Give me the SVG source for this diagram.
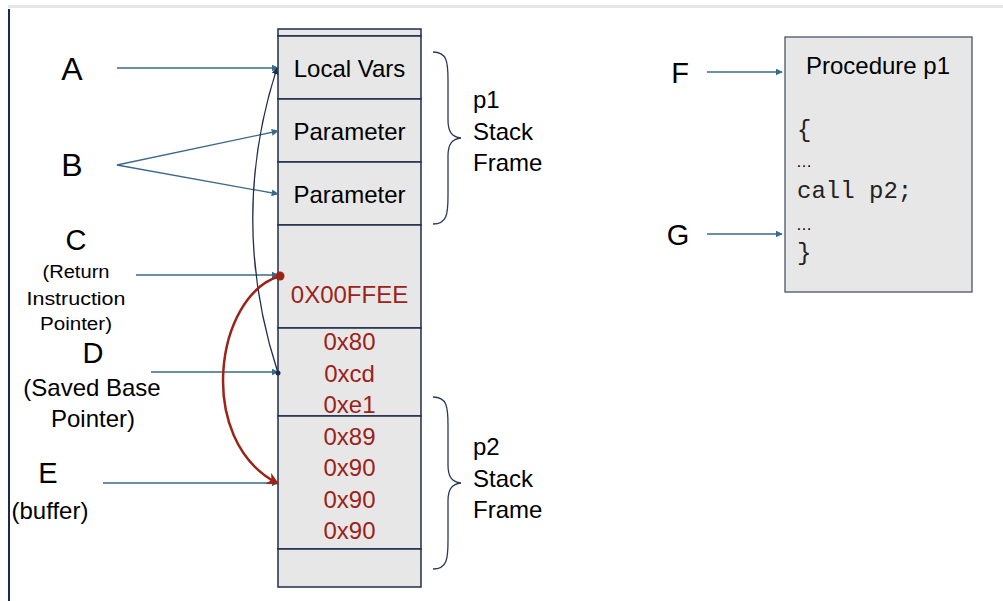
<svg xmlns="http://www.w3.org/2000/svg" width="1003" height="601" viewBox="0 0 1003 601">
<style>
.lbl{font-family:"Liberation Sans",Arial,sans-serif;fill:#000}
.big{font-size:32px}
.let{font-size:29px}
.mid{font-size:24px}
.sm{font-size:18px}
.cell{fill:#e7e7e7;stroke:#1f2d4a;stroke-width:1.5}
.hex{font-family:"Liberation Sans",Arial,sans-serif;font-size:24px;fill:#9b2318}
.code{font-family:"Liberation Mono","Courier New",monospace;font-size:24px;fill:#222}
.ptr{stroke:#3a6a8a;stroke-width:1.3;fill:none;marker-end:url(#ah)}
.brace{stroke:#2a3a55;stroke-width:1.3;fill:none}
</style>
<defs>
<marker id="ah" viewBox="0 0 10 10" refX="9" refY="5" markerWidth="7" markerHeight="7" markerUnits="userSpaceOnUse" orient="auto"><path d="M0,0 L10,5 L0,10 Z" fill="#3a6a8a"/></marker>
<marker id="ahd" viewBox="0 0 10 10" refX="9" refY="5" markerWidth="7" markerHeight="7" markerUnits="userSpaceOnUse" orient="auto"><path d="M0,0 L10,5 L0,10 Z" fill="#1f2d4a"/></marker>
<marker id="ahr" viewBox="0 0 10 10" refX="8" refY="5" markerWidth="5" markerHeight="5" orient="auto"><path d="M0,0 L10,5 L0,10 L3,5 Z" fill="#9b2318"/></marker>
</defs>
<rect x="0" y="0" width="1003" height="601" fill="#fff"/>
<rect x="8" y="5" width="995" height="3" fill="#e6e6e6"/>
<line x1="9" y1="9" x2="9" y2="601" stroke="#1a2a4a" stroke-width="2"/>

<g id="stack">
<rect class="cell" x="278" y="29" width="143" height="7"/>
<g id="local-vars"><rect class="cell" x="278" y="36" width="143" height="63"/><text class="lbl mid" x="349.5" y="77" text-anchor="middle">Local Vars</text></g>
<g id="param1"><rect class="cell" x="278" y="99" width="143" height="63"/><text class="lbl mid" x="349.5" y="140" text-anchor="middle">Parameter</text></g>
<g id="param2"><rect class="cell" x="278" y="162" width="143" height="63"/><text class="lbl mid" x="349.5" y="203" text-anchor="middle">Parameter</text></g>
<g id="ret"><rect class="cell" x="278" y="225" width="143" height="103"/><text class="hex" x="349.5" y="303" text-anchor="middle">0X00FFEE</text></g>
<g id="saved-bp"><rect class="cell" x="278" y="328" width="143" height="88"/>
<text class="hex" x="349.5" y="350" text-anchor="middle">0x80</text>
<text class="hex" x="349.5" y="382" text-anchor="middle">0xcd</text>
<text class="hex" x="349.5" y="413" text-anchor="middle">0xe1</text></g>
<g id="buffer"><rect class="cell" x="278" y="416" width="143" height="133"/>
<text class="hex" x="349.5" y="445" text-anchor="middle">0x89</text>
<text class="hex" x="349.5" y="476" text-anchor="middle">0x90</text>
<text class="hex" x="349.5" y="508" text-anchor="middle">0x90</text>
<text class="hex" x="349.5" y="539" text-anchor="middle">0x90</text></g>
<g id="empty"><rect class="cell" x="278" y="549" width="143" height="38"/></g>
</g>

<g id="p1-frame">
<path class="brace" d="M433,52 C447,52 448,62 448,80 L448,120 C448,132 452,137 461,138 C452,139 448,144 448,156 L448,196 C448,214 447,224 433,224"/>
<text class="lbl mid" x="473" y="108">p1</text>
<text class="lbl mid" x="473" y="140">Stack</text>
<text class="lbl mid" x="473" y="171">Frame</text>
</g>
<g id="p2-frame">
<path class="brace" d="M433,397 C447,397 448,407 448,425 L448,465 C448,477 452,482 461,483 C452,484 448,489 448,501 L448,541 C448,559 447,569 433,569"/>
<text class="lbl mid" x="473" y="455">p2</text>
<text class="lbl mid" x="473" y="487">Stack</text>
<text class="lbl mid" x="473" y="518">Frame</text>
</g>

<g id="procedure">
<rect x="785" y="37" width="187" height="255" fill="#e7e7e7" stroke="#4a5468" stroke-width="1.3"/>
<text class="lbl mid" x="878" y="74" text-anchor="middle">Procedure p1</text>
<text class="code" x="797" y="137">{</text>
<text class="lbl" style="font-size:16px" x="796" y="167">…</text>
<text class="code" x="797" y="198">call p2;</text>
<text class="lbl" style="font-size:16px" x="796" y="230">…</text>
<text class="code" x="797" y="260">}</text>
</g>

<g id="labels">
<g id="label-A"><text class="lbl big" x="72" y="80" text-anchor="middle">A</text></g>
<g id="label-B"><text class="lbl big" x="72" y="176" text-anchor="middle">B</text></g>
<g id="label-C"><text class="lbl let" x="76" y="250" text-anchor="middle">C</text>
<text class="lbl sm" x="76" y="278" text-anchor="middle" textLength="67" lengthAdjust="spacingAndGlyphs">(Return</text>
<text class="lbl sm" x="76" y="305" text-anchor="middle" textLength="99" lengthAdjust="spacingAndGlyphs">Instruction</text>
<text class="lbl sm" x="76" y="330" text-anchor="middle" textLength="72" lengthAdjust="spacingAndGlyphs">Pointer)</text></g>
<g id="label-D"><text class="lbl let" x="93" y="363" text-anchor="middle">D</text>
<text class="lbl mid" x="92" y="396" text-anchor="middle">(Saved Base</text>
<text class="lbl mid" x="93" y="427" text-anchor="middle">Pointer)</text></g>
<g id="label-E"><text class="lbl let" x="48" y="483" text-anchor="middle">E</text>
<text class="lbl mid" x="50" y="519" text-anchor="middle">(buffer)</text></g>
<g id="label-F"><text class="lbl let" x="680" y="83" text-anchor="middle">F</text></g>
<g id="label-G"><text class="lbl let" x="678" y="245" text-anchor="middle">G</text></g>
</g>

<g id="connectors">
<line class="ptr" x1="117" y1="68" x2="278" y2="68"/>
<line class="ptr" x1="117" y1="165" x2="278" y2="131"/>
<line class="ptr" x1="117" y1="165" x2="278" y2="194"/>
<line class="ptr" x1="136" y1="275" x2="278" y2="275"/>
<line class="ptr" x1="151" y1="372" x2="278" y2="372"/>
<line class="ptr" x1="103" y1="483" x2="278" y2="483"/>
<line class="ptr" x1="707" y1="72" x2="782" y2="72"/>
<line class="ptr" x1="707" y1="234" x2="782" y2="234"/>
<path d="M278,373 Q228,220 277,68" fill="none" stroke="#1f2d4a" stroke-width="1.3" marker-end="url(#ahd)"/>
<circle cx="278" cy="373" r="2.5" fill="#1f2d4a"/>
<path d="M280,276 C215,295 195,440 277,483" fill="none" stroke="#9b2318" stroke-width="2.5" marker-end="url(#ahr)"/>
<circle cx="280" cy="276" r="4.5" fill="#9b2318"/>
</g>
</svg>
